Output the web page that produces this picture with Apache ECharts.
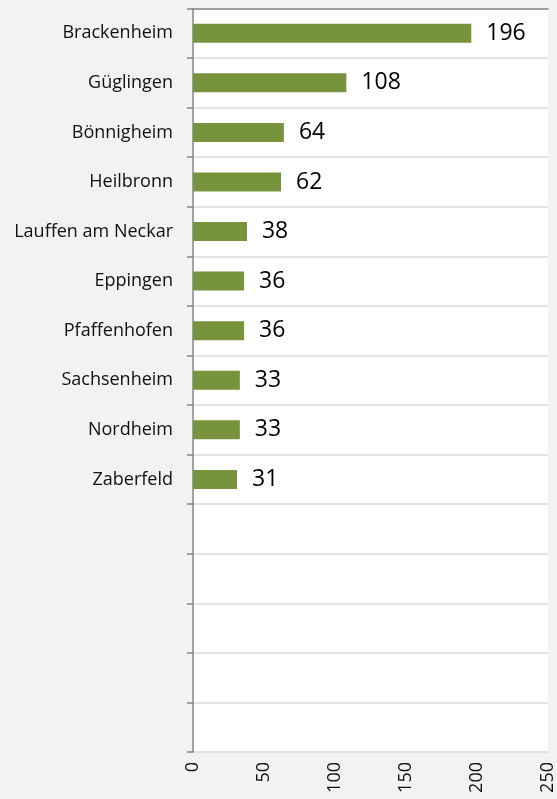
<!DOCTYPE html>
<html>
<head>
<meta charset="utf-8">
<style>
html,body{margin:0;padding:0;background:#f2f2f2;}
#c{width:557px;height:799px;}
</style>
<script src="https://cdn.jsdelivr.net/npm/echarts@6/dist/echarts.min.js"></script>
</head>
<body>
<div id="c"></div>
<script>
const categories = ["Brackenheim","Güglingen","Bönnigheim","Heilbronn","Lauffen am Neckar","Eppingen","Pfaffenhofen","Sachsenheim","Nordheim","Zaberfeld","","","","",""];
const values = [196,108,64,62,38,36,36,33,33,31];
const xTicks = [0,50,100,150,200,250];

const chart = echarts.init(document.getElementById('c'));
chart.setOption({
  backgroundColor: '#f2f2f2',
  animation: false,
  grid: {left: 193, top: 8.5, right: 9, bottom: 47, show: true, backgroundColor: '#ffffff', borderWidth: 0},
  xAxis: [{
    type: 'value', min: xTicks[0], max: xTicks[xTicks.length-1], interval: 50, position: 'bottom',
    axisLine: {show: false}, axisTick: {show: false}, splitLine: {show: false},
    axisLabel: {rotate: 90, margin: 10, fontFamily: 'Open Sans', fontSize: 18, color: '#111'}
  },{
    type: 'value', min: xTicks[0], max: xTicks[xTicks.length-1], position: 'top',
    axisLine: {show: true, lineStyle: {color: '#868686', width: 1.5}}, axisTick: {show: false},
    axisLabel: {show: false}, splitLine: {show: false}
  }],
  yAxis: {
    type: 'category', inverse: true, data: categories,
    axisLine: {show: true, lineStyle: {color: '#868686', width: 1.5}},
    axisTick: {show: true, length: 6, lineStyle: {color: '#868686', width: 1.5}},
    splitLine: {show: true, lineStyle: {color: '#d9d9d9', width: 1.5}},
    axisLabel: {margin: 20, fontFamily: 'Open Sans', fontSize: 18, color: '#111'}
  },
  series: [{
    type: 'bar', data: values, barWidth: 19, xAxisIndex: 0,
    itemStyle: {color: '#77933c'},
    label: {show: true, position: 'right', distance: 15, fontFamily: 'Open Sans', fontSize: 23, color: '#000'}
  }]
});
</script>
</body>
</html>
